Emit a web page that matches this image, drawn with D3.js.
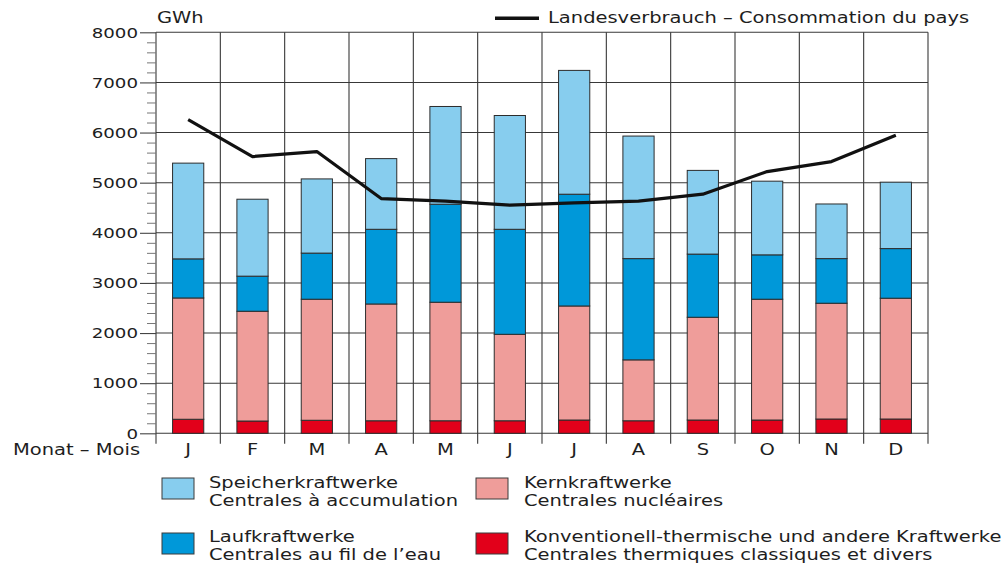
<!DOCTYPE html>
<html><head><meta charset="utf-8">
<script src="https://cdn.jsdelivr.net/npm/d3@7"></script>
<style>
body{margin:0;background:#fff}
svg{display:block}
text{font-family:"DejaVu Sans",sans-serif;fill:#1e1e1e}
</style>
</head><body>
<svg id="chart" width="1003" height="564"></svg>
<script>
// ---- data (GWh) ----
const months      = ["J","F","M","A","M","J","J","A","S","O","N","D"];
const thermal     = [280, 245, 260, 250, 250, 250, 265, 250, 265, 265, 285, 285];
const nuclear     = [2420,2190,2415,2330,2365,1725,2275,1215,2050,2410,2310,2410];
const runOfRiver  = [780, 700, 920, 1490,1955,2095,2230,2020,1260,885, 890, 990];
const storage     = [1910,1535,1480,1410,1950,2270,2470,2445,1670,1470,1090,1325];
const consumption = [6257,5521,5621,4683,4631,4551,4597,4631,4771,5222,5421,5948];
const yTicks      = [0,1000,2000,3000,4000,5000,6000,7000,8000];
const seriesKeys  = ["thermal","nuclear","river","storage"];
const seriesNames = {
  storage: ["Speicherkraftwerke","Centrales à accumulation"],
  nuclear: ["Kernkraftwerke","Centrales nucléaires"],
  river:   ["Laufkraftwerke","Centrales au fil de l’eau"],
  thermal: ["Konventionell-thermische und andere Kraftwerke","Centrales thermiques classiques et divers"]
};
const lineName = "Landesverbrauch – Consommation du pays";
const unitLabel = "GWh";
const axisLabel = "Monat – Mois";

// ---- style ----
const colors = {storage:"#87cdee", river:"#0098d9", nuclear:"#ef9d9a", thermal:"#e2001a"};
const SX = 1.3; // horizontal stretch of the original typography
const gridColor = "#383838";

const svg = d3.select("#chart");
const mLeft = 156, mRight = 928, mTop = 32.3, mBottom = 433.3;

const rows = months.map((m,i)=>({i, thermal:thermal[i], nuclear:nuclear[i], river:runOfRiver[i], storage:storage[i]}));
const idx = d3.range(months.length);

const xm = d3.scaleBand().domain(idx).range([mLeft,mRight]).padding(0);
const xb = d3.scaleBand().domain(idx).range([mLeft,mRight]).paddingInner(0.515).paddingOuter(0.2575);
const y  = d3.scaleLinear().domain([0,8000]).range([mBottom,mTop]);

function stretch(sel, fx, fy){
  sel.attr("x",null).attr("y",null)
     .attr("transform",(d,i)=>`translate(${fx(d,i)},${fy(d,i)}) scale(${SX},1)`);
  return sel;
}

// grid: horizontal
svg.append("g").selectAll("line").data(yTicks).join("line")
  .attr("x1",mLeft).attr("x2",mRight)
  .attr("y1",d=>y(d)).attr("y2",d=>y(d))
  .attr("stroke",gridColor).attr("stroke-width",1.1);

// grid: vertical (month boundaries, extending below the base as ticks)
const bounds = idx.map(i=>xm(i)).concat([mRight]);
svg.append("g").selectAll("line").data(bounds).join("line")
  .attr("x1",d=>d).attr("x2",d=>d)
  .attr("y1",y(8000)).attr("y2",y(0)+10.5)
  .attr("stroke",gridColor).attr("stroke-width",1.1);

// y axis major ticks
const yAxis = svg.append("g").attr("transform",`translate(${mLeft},0)`)
  .call(d3.axisLeft(y).tickValues(yTicks).tickSize(16).tickFormat(d3.format("d")));
yAxis.select(".domain").remove();
yAxis.selectAll(".tick line").attr("stroke","#444").attr("stroke-width",1.1);
yAxis.selectAll(".tick text").attr("font-size",14).attr("fill","#1e1e1e")
  .attr("font-family","DejaVu Sans").attr("text-anchor","end").attr("dy",null)
  .attr("dominant-baseline","central")
  .attr("x",null).attr("transform",`translate(-18,0) scale(${SX},1)`);

// y axis minor ticks
const minor = d3.range(0,8001,200).filter(v=>v%1000!==0);
const yMinor = svg.append("g").attr("transform",`translate(${mLeft},0)`)
  .call(d3.axisLeft(y).tickValues(minor).tickSize(9).tickFormat(""));
yMinor.select(".domain").remove();
yMinor.selectAll(".tick line").attr("stroke","#777").attr("stroke-width",1);

// stacked bars
const stacked = d3.stack().keys(seriesKeys)(rows);
svg.append("g").selectAll("g").data(stacked).join("g")
  .attr("fill",s=>colors[s.key])
  .selectAll("rect").data(s=>s).join("rect")
  .attr("x",d=>xb(d.data.i)).attr("width",xb.bandwidth())
  .attr("y",d=>y(d[1])).attr("height",d=>y(d[0])-y(d[1]))
  .attr("stroke","#2c2c2c").attr("stroke-width",1);

// consumption line
const line = d3.line().x((d,i)=>xm(i)+xm.bandwidth()/2).y(d=>y(d));
svg.append("path").datum(consumption).attr("d",line)
  .attr("fill","none").attr("stroke","#111").attr("stroke-width",3.2)
  .attr("stroke-linejoin","round");

// month labels
svg.append("g").selectAll("text").data(idx).join("text")
  .attr("font-size",15).attr("text-anchor","middle").text(i=>months[i])
  .call(stretch, i=>xm(i)+xm.bandwidth()/2, ()=>455);

svg.append("text").attr("font-size",15).text(axisLabel)
  .call(stretch, ()=>13, ()=>455);

// unit label
svg.append("text").attr("font-size",15).text(unitLabel)
  .call(stretch, ()=>157, ()=>23);

// line legend (top)
svg.append("line").attr("x1",495).attr("x2",539).attr("y1",18.3).attr("y2",18.3)
  .attr("stroke","#111").attr("stroke-width",3.5);
svg.append("text").attr("font-size",15).text(lineName)
  .call(stretch, ()=>548, ()=>23);

// bar legend
const legendItems = [
  {key:"storage", sx:162, tx:209, sy:478, ty:487.5},
  {key:"nuclear", sx:476, tx:524, sy:478, ty:487.5},
  {key:"river",   sx:162, tx:209, sy:533, ty:541.5},
  {key:"thermal", sx:476, tx:524, sy:533, ty:541.5}
];
const lg = svg.append("g").selectAll("g").data(legendItems).join("g");
lg.append("rect").attr("x",d=>d.sx).attr("y",d=>d.sy).attr("width",32).attr("height",21)
  .attr("fill",d=>colors[d.key]).attr("stroke","#3a3a3a").attr("stroke-width",1);
lg.append("text").attr("font-size",15).text(d=>seriesNames[d.key][0])
  .call(stretch, d=>d.tx, d=>d.ty);
lg.append("text").attr("font-size",15).text(d=>seriesNames[d.key][1])
  .call(stretch, d=>d.tx, d=>d.ty+18);
</script>
</body></html>
